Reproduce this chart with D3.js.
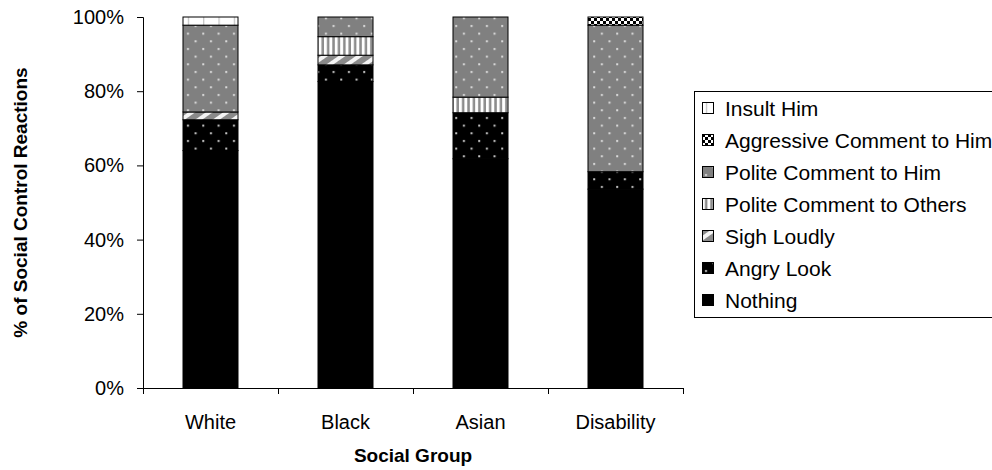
<!DOCTYPE html>
<html>
<head>
<meta charset="utf-8">
<script src="https://cdn.jsdelivr.net/npm/d3@7"></script>
<style>
  html, body { margin: 0; padding: 0; background: #fff; overflow: hidden; }
  svg { display: block; font-family: "Liberation Sans", Arial, sans-serif; }
</style>
</head>
<body>
<svg id="chart" width="992" height="470"></svg>
<script>
// Social groups on the x axis
const groups = ["White", "Black", "Asian", "Disability"];

// Reaction types, stacked from the bottom up
const reactions = [
  "Nothing",
  "Angry Look",
  "Sigh Loudly",
  "Polite Comment to Others",
  "Polite Comment to Him",
  "Aggressive Comment to Him",
  "Insult Him"
];

// Share of reactions (%) per group, one array per reaction type
const nothing         = [64.0, 82.6, 61.8, 53.6];
const angryLook       = [ 8.3,  4.5, 12.4,  4.7];
const sighLoudly      = [ 2.1,  2.6,  0.0,  0.0];
const politeOthers    = [ 0.0,  5.0,  4.2,  0.0];
const politeHim       = [23.4,  5.3, 21.6, 39.5];
const aggressiveHim   = [ 0.0,  0.0,  0.0,  2.2];
const insultHim       = [ 2.2,  0.0,  0.0,  0.0];

const yTicks = [0, 20, 40, 60, 80, 100];

const seriesValues = [nothing, angryLook, sighLoudly, politeOthers, politeHim, aggressiveHim, insultHim];
const table = groups.map((g, i) => {
  const row = { group: g };
  reactions.forEach((r, k) => { row[r] = seriesValues[k][i]; });
  return row;
});

const svg = d3.select("#chart");
const fontSize = 20;

// ---------- fill patterns ----------
const defs = svg.append("defs");
const step = 15.33;

function dotPattern(id, bg, dot) {
  const p = defs.append("pattern").attr("id", id)
    .attr("patternUnits", "userSpaceOnUse")
    .attr("width", step).attr("height", step);
  p.append("rect").attr("width", step).attr("height", step).attr("fill", bg);
  p.append("rect").attr("x", 3).attr("y", 2).attr("width", 2).attr("height", 2).attr("fill", dot);
  p.append("rect").attr("x", 3 + step / 2).attr("y", 2 + step / 2).attr("width", 2).attr("height", 2).attr("fill", dot);
}
dotPattern("pat-angry", "#000", "#c8c8c8");
dotPattern("pat-politehim", "#808080", "#dcdcdc");

// diagonal streaks rising to the right
(function () {
  const p = defs.append("pattern").attr("id", "pat-sigh")
    .attr("patternUnits", "userSpaceOnUse")
    .attr("width", 10).attr("height", 10)
    .attr("patternTransform", "rotate(55)");
  p.append("rect").attr("width", 10).attr("height", 10).attr("fill", "#8a8a8a");
  p.append("rect").attr("width", 4).attr("height", 10).attr("fill", "#f4f4f4");
})();

// vertical stripes
(function () {
  const p = defs.append("pattern").attr("id", "pat-others")
    .attr("patternUnits", "userSpaceOnUse")
    .attr("width", 5.4).attr("height", 10);
  p.append("rect").attr("width", 5.4).attr("height", 10).attr("fill", "#ffffff");
  p.append("rect").attr("x", 2.9).attr("width", 2.5).attr("height", 10).attr("fill", "#8c8c8c");
})();

// small checker
(function () {
  const p = defs.append("pattern").attr("id", "pat-aggr")
    .attr("patternUnits", "userSpaceOnUse")
    .attr("width", 6).attr("height", 6);
  p.append("rect").attr("width", 6).attr("height", 6).attr("fill", "#ffffff");
  p.append("rect").attr("x", 0).attr("y", 0).attr("width", 3).attr("height", 3).attr("fill", "#000");
  p.append("rect").attr("x", 3).attr("y", 3).attr("width", 3).attr("height", 3).attr("fill", "#000");
})();

// white with light vertical ticks
(function () {
  const p = defs.append("pattern").attr("id", "pat-insult")
    .attr("patternUnits", "userSpaceOnUse")
    .attr("width", 15.33).attr("height", 12);
  p.append("rect").attr("width", 15.33).attr("height", 12).attr("fill", "#ffffff");
  p.append("rect").attr("x", 4).attr("y", 0).attr("width", 1).attr("height", 12).attr("fill", "#b4b4b4");
})();

const fills = {
  "Nothing": "#000000",
  "Angry Look": "url(#pat-angry)",
  "Sigh Loudly": "url(#pat-sigh)",
  "Polite Comment to Others": "url(#pat-others)",
  "Polite Comment to Him": "url(#pat-politehim)",
  "Aggressive Comment to Him": "url(#pat-aggr)",
  "Insult Him": "url(#pat-insult)"
};

// ---------- scales ----------
const plotLeft = 143, plotRight = 683, plotTop = 17, plotBottom = 388;

const x = d3.scaleBand()
  .domain(groups)
  .range([plotLeft, plotRight])
  .paddingInner(80 / 135)
  .paddingOuter(40 / 135);

const y = d3.scaleLinear().domain([0, 100]).range([plotBottom, plotTop]);

// ---------- stacked bars ----------
const stack = d3.stack().keys(reactions);
const layers = stack(table);

const barG = svg.append("g");
layers.forEach(layer => {
  barG.append("g")
    .selectAll("rect")
    .data(layer.filter(d => d[1] - d[0] > 0))
    .join("rect")
    .attr("x", d => x(d.data.group))
    .attr("width", x.bandwidth())
    .attr("y", d => y(d[1]))
    .attr("height", d => y(d[0]) - y(d[1]))
    .attr("fill", fills[layer.key])
    .attr("stroke", "#000")
    .attr("stroke-width", 1);
});

// ---------- axes ----------
const yAxis = d3.axisLeft(y)
  .tickValues(yTicks)
  .tickFormat(d => d + "%")
  .tickSize(6)
  .tickPadding(13);

const yG = svg.append("g")
  .attr("transform", `translate(${plotLeft},0)`)
  .call(yAxis);
yG.select(".domain").attr("stroke", "#000");
yG.selectAll(".tick line").attr("stroke", "#000");
yG.selectAll(".tick text")
  .attr("font-family", "Liberation Sans, Arial, sans-serif")
  .attr("font-size", fontSize)
  .attr("fill", "#000");

// category boundaries on the x axis
const xEdge = d3.scaleLinear().domain([0, groups.length]).range([plotLeft, plotRight]);
const xG = svg.append("g")
  .attr("transform", `translate(0,${plotBottom})`)
  .call(d3.axisBottom(xEdge).tickValues(d3.range(groups.length + 1)).tickSize(6).tickFormat(""));
xG.select(".domain").attr("stroke", "#000");
xG.selectAll(".tick line").attr("stroke", "#000");

svg.append("g")
  .selectAll("text")
  .data(groups)
  .join("text")
  .attr("x", d => x(d) + x.bandwidth() / 2)
  .attr("y", 429)
  .attr("text-anchor", "middle")
  .attr("font-size", fontSize)
  .attr("fill", "#000")
  .text(d => d);

// axis titles
svg.append("text")
  .attr("x", (plotLeft + plotRight) / 2)
  .attr("y", 462)
  .attr("text-anchor", "middle")
  .attr("font-size", 19)
  .attr("font-weight", "bold")
  .text("Social Group");

svg.append("text")
  .attr("transform", `translate(27,${(plotTop + plotBottom) / 2}) rotate(-90)`)
  .attr("text-anchor", "middle")
  .attr("font-size", 19)
  .attr("font-weight", "bold")
  .text("% of Social Control Reactions");

// ---------- legend ----------
const legendItems = reactions.slice().reverse();
const legendTop = 91, legendBottom = 317, legendLeft = 694, itemStep = 32;
const legend = svg.append("g");
legend.append("rect")
  .attr("x", legendLeft + 0.5)
  .attr("y", legendTop + 0.5)
  .attr("width", 320)
  .attr("height", legendBottom - legendTop)
  .attr("fill", "#fff")
  .attr("stroke", "#000");

const li = legend.selectAll("g.item")
  .data(legendItems)
  .join("g")
  .attr("class", "item")
  .attr("transform", (d, i) => `translate(${legendLeft + 8},${108 + i * itemStep})`);

li.append("rect")
  .attr("x", 0.5).attr("y", -5.5)
  .attr("width", 11).attr("height", 11)
  .attr("fill", d => fills[d])
  .attr("stroke", "#000");

li.append("text")
  .attr("x", 23)
  .attr("y", 7.5)
  .attr("font-size", 21)
  .attr("fill", "#000")
  .text(d => d);
</script>
</body>
</html>
